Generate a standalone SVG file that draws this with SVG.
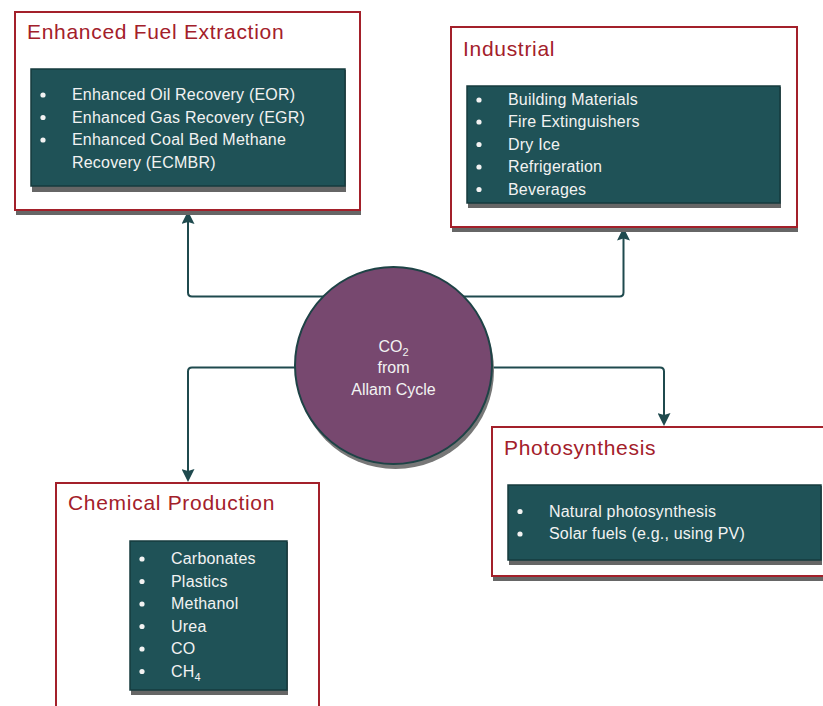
<svg xmlns="http://www.w3.org/2000/svg" width="823" height="706" viewBox="0 0 823 706">
  <defs>
    <style>
      .outer { fill: #ffffff; stroke: #A3202A; stroke-width: 2; }
      .shadow { fill: #666666; }
      .inner { fill: #1F5257; stroke: #163B3E; stroke-width: 1.5; }
      .title { font-family: "Liberation Sans", Arial, sans-serif; font-size: 21px; fill: #A3202A; letter-spacing: 0.7px; }
      .item { font-family: "Liberation Sans", Arial, sans-serif; font-size: 16px; fill: #F2F2F2; letter-spacing: 0.2px; }
      .bullet { fill: #F2F2F2; }
      .conn { fill: none; stroke: #1F4A4E; stroke-width: 2; }
      .ctext { font-family: "Liberation Sans", Arial, sans-serif; font-size: 16px; fill: #F2F2F2; text-anchor: middle; }
    </style>
    <marker id="arrow" viewBox="0 0 13 13" refX="6" refY="6.5" markerWidth="13" markerHeight="13" markerUnits="userSpaceOnUse" orient="auto">
      <path d="M0,0 L13,6.5 L0,13 L2,6.5 Z" fill="#1F4A4E"/>
    </marker>
  </defs>
  <rect width="823" height="706" fill="#ffffff"/>

  <g id="connectors">
    <path class="conn" d="M393,296.5 H192 Q188,296.5 188,292.5 V218" marker-end="url(#arrow)"/>
    <path class="conn" d="M393,296.5 H619.5 Q623.5,296.5 623.5,292.5 V234.5" marker-end="url(#arrow)"/>
    <path class="conn" d="M393,367.5 H192 Q188,367.5 188,371.5 V475" marker-end="url(#arrow)"/>
    <path class="conn" d="M393,367.5 H660 Q664,367.5 664,371.5 V419" marker-end="url(#arrow)"/>
  </g>

  <g id="co2-source">
    <circle cx="395.5" cy="370.5" r="98.5" fill="#777777"/>
    <circle cx="393.5" cy="365.5" r="98.5" fill="#77486F" stroke="#1E4346" stroke-width="2"/>
    <text class="ctext" x="393.5" y="352">CO<tspan font-size="11px" dy="4">2</tspan></text>
    <text class="ctext" x="393.5" y="373">from</text>
    <text class="ctext" x="393.5" y="394.5">Allam Cycle</text>
  </g>

  <g id="enhanced-fuel-extraction">
    <rect class="shadow" x="16" y="13" width="345" height="202"/>
    <rect class="outer" x="15" y="12" width="345" height="198"/>
    <text class="title" x="27" y="39">Enhanced Fuel Extraction</text>
    <rect class="shadow" x="32" y="70" width="314" height="122"/>
    <rect class="inner" x="31" y="69" width="314" height="117"/>
    <circle class="bullet" cx="43" cy="95" r="2.6"/>
    <circle class="bullet" cx="43" cy="117.5" r="2.6"/>
    <circle class="bullet" cx="43" cy="140" r="2.6"/>
    <text class="item" x="72" y="100">Enhanced Oil Recovery (EOR)</text>
    <text class="item" x="72" y="122.5">Enhanced Gas Recovery (EGR)</text>
    <text class="item" x="72" y="145">Enhanced Coal Bed Methane</text>
    <text class="item" x="72" y="167.5">Recovery (ECMBR)</text>
  </g>

  <g id="industrial">
    <rect class="shadow" x="452" y="28" width="346" height="204"/>
    <rect class="outer" x="451" y="27" width="346" height="200"/>
    <text class="title" x="463" y="56">Industrial</text>
    <rect class="shadow" x="468" y="87" width="313" height="121"/>
    <rect class="inner" x="467" y="86" width="313" height="117"/>
    <circle class="bullet" cx="479" cy="100" r="2.6"/>
    <circle class="bullet" cx="479" cy="122" r="2.6"/>
    <circle class="bullet" cx="479" cy="144.5" r="2.6"/>
    <circle class="bullet" cx="479" cy="167" r="2.6"/>
    <circle class="bullet" cx="479" cy="189.5" r="2.6"/>
    <text class="item" x="508" y="105">Building Materials</text>
    <text class="item" x="508" y="127">Fire Extinguishers</text>
    <text class="item" x="508" y="149.5">Dry Ice</text>
    <text class="item" x="508" y="172">Refrigeration</text>
    <text class="item" x="508" y="194.5">Beverages</text>
  </g>

  <g id="chemical-production">
    <rect class="shadow" x="57" y="484" width="263" height="240"/>
    <rect class="outer" x="56" y="483" width="263" height="240"/>
    <text class="title" x="68" y="510">Chemical Production</text>
    <rect class="shadow" x="131" y="542" width="157" height="153"/>
    <rect class="inner" x="130" y="541" width="157" height="149"/>
    <circle class="bullet" cx="142" cy="559" r="2.6"/>
    <circle class="bullet" cx="142" cy="581.5" r="2.6"/>
    <circle class="bullet" cx="142" cy="604" r="2.6"/>
    <circle class="bullet" cx="142" cy="626.5" r="2.6"/>
    <circle class="bullet" cx="142" cy="649" r="2.6"/>
    <circle class="bullet" cx="142" cy="671.5" r="2.6"/>
    <text class="item" x="171" y="564">Carbonates</text>
    <text class="item" x="171" y="586.5">Plastics</text>
    <text class="item" x="171" y="609">Methanol</text>
    <text class="item" x="171" y="631.5">Urea</text>
    <text class="item" x="171" y="654">CO</text>
    <text class="item" x="171" y="676.5">CH<tspan font-size="11px" dy="4">4</tspan></text>
  </g>

  <g id="photosynthesis">
    <rect class="shadow" x="493" y="428" width="340" height="153"/>
    <rect class="outer" x="492" y="427" width="340" height="149"/>
    <text class="title" x="504" y="455">Photosynthesis</text>
    <rect class="shadow" x="509" y="486" width="313" height="79"/>
    <rect class="inner" x="508" y="485" width="313" height="75"/>
    <circle class="bullet" cx="520" cy="511.5" r="2.6"/>
    <circle class="bullet" cx="520" cy="534" r="2.6"/>
    <text class="item" x="549" y="516.5">Natural photosynthesis</text>
    <text class="item" x="549" y="539">Solar fuels (e.g., using PV)</text>
  </g>
</svg>
